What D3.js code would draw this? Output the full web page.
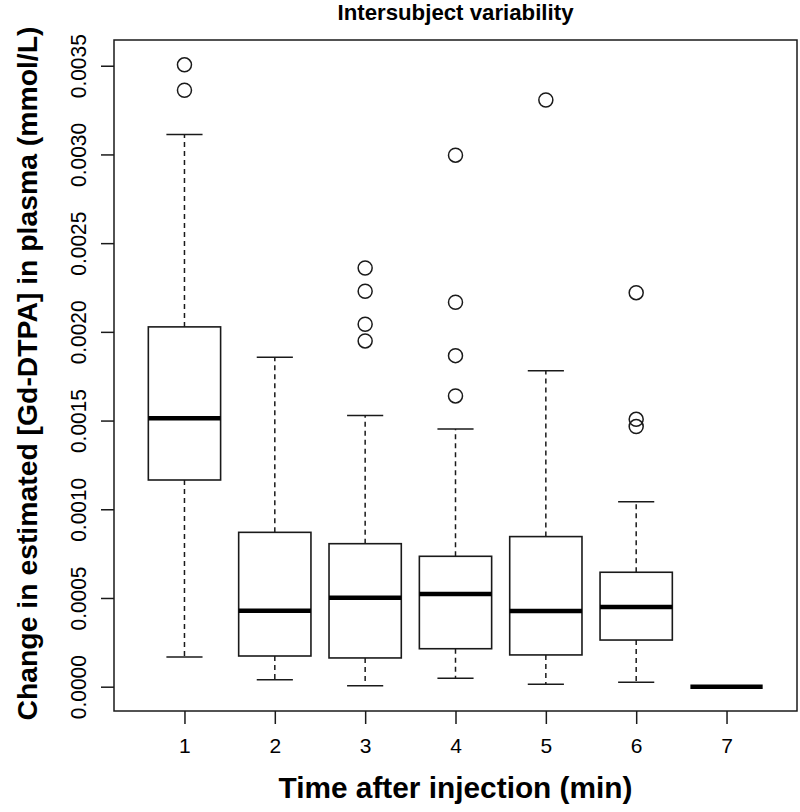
<!DOCTYPE html>
<html>
<head>
<meta charset="utf-8">
<script src="https://cdn.jsdelivr.net/npm/d3@7"></script>
<style>
html,body{margin:0;padding:0;background:#fff;}
svg{display:block;font-family:"Liberation Sans",Arial,sans-serif;}
</style>
</head>
<body>
<svg id="chart" width="800" height="812"></svg>
<script>
// ---- data ----
const categories = [1, 2, 3, 4, 5, 6, 7];
const whiskerLow = [0.000167, 0.0000395, 0.0000056, 0.0000473, 0.0000135, 0.0000248, 0];
const q1 =         [0.001165, 0.000173, 0.000162, 0.000214, 0.000179, 0.000263, 0];
const medians =    [0.001513, 0.000428, 0.000502, 0.000523, 0.000427, 0.000449, 0];
const q3 =         [0.002028, 0.000870, 0.000806, 0.000735, 0.000846, 0.000645, 0];
const whiskerHigh =[0.003112, 0.001857, 0.001528, 0.001453, 0.001781, 0.001043, 0];
const outliers = [
  [0.003505, 0.003362],
  [],
  [0.002360, 0.002229, 0.002043, 0.001949],
  [0.002996, 0.002167, 0.001866, 0.001639],
  [0.003307],
  [0.002221, 0.001507, 0.001466],
  []
];
const yTicks = [0, 0.0005, 0.0010, 0.0015, 0.0020, 0.0025, 0.0030, 0.0035];
const title = "Intersubject variability";
const xLabel = "Time after injection (min)";
const yLabel = "Change in estimated [Gd-DTPA] in plasma (mmol/L)";

// ---- layout ----
const pL = 114, pR = 797, pT = 40, pB = 711;
const svg = d3.select("#chart");
const x = d3.scaleLinear().domain([0.22, 7.78]).range([pL, pR]);
const y = d3.scaleLinear().domain([-0.000137, 0.003645]).range([pB, pT]);
const boxW = x(0.8) - x(0);
const capW = boxW / 2;
const ink = "#1a1a1a";

// frame
svg.append("rect").attr("x", pL).attr("y", pT)
  .attr("width", pR - pL).attr("height", pB - pT)
  .attr("fill", "none").attr("stroke", ink).attr("stroke-width", 1.5);

// y axis
const yAxis = svg.append("g").attr("transform", `translate(${pL},0)`)
  .call(d3.axisLeft(y).tickValues(yTicks).tickSize(13).tickFormat(d3.format(".4f")));
yAxis.select(".domain").remove();
yAxis.selectAll(".tick line").attr("stroke", ink).attr("stroke-width", 1.5);
yAxis.selectAll(".tick text")
  .attr("x", 0).attr("dy", 0)
  .attr("transform", "translate(-28,0) rotate(-90)")
  .attr("text-anchor", "middle")
  .attr("fill", "#000")
  .style("font-size", "22px")
  .attr("textLength", 64).attr("lengthAdjust", "spacingAndGlyphs");

// x axis
const xAxis = svg.append("g").attr("transform", `translate(0,${pB})`)
  .call(d3.axisBottom(x).tickValues(categories).tickSize(13).tickFormat(d3.format("d")));
xAxis.select(".domain").remove();
xAxis.selectAll(".tick line").attr("stroke", ink).attr("stroke-width", 1.5);
xAxis.selectAll(".tick text").attr("y", 42).attr("dy", 0)
  .attr("fill", "#000").style("font-size", "21px");

// boxes
const g = svg.append("g");
categories.forEach((c, i) => {
  const cx = x(c);
  const bg = g.append("g");
  if (q3[i] > q1[i]) {
    bg.append("line").attr("x1", cx).attr("x2", cx)
      .attr("y1", y(q3[i])).attr("y2", y(whiskerHigh[i]))
      .attr("stroke", ink).attr("stroke-width", 1.5).attr("stroke-dasharray", "5,4");
    bg.append("line").attr("x1", cx).attr("x2", cx)
      .attr("y1", y(q1[i])).attr("y2", y(whiskerLow[i]))
      .attr("stroke", ink).attr("stroke-width", 1.5).attr("stroke-dasharray", "5,4");
    [whiskerHigh[i], whiskerLow[i]].forEach(v => {
      bg.append("line").attr("x1", cx - capW / 2).attr("x2", cx + capW / 2)
        .attr("y1", y(v)).attr("y2", y(v))
        .attr("stroke", ink).attr("stroke-width", 1.5);
    });
    bg.append("rect").attr("x", cx - boxW / 2).attr("y", y(q3[i]))
      .attr("width", boxW).attr("height", y(q1[i]) - y(q3[i]))
      .attr("fill", "none").attr("stroke", ink).attr("stroke-width", 1.6);
  }
  bg.append("line").attr("x1", cx - boxW / 2).attr("x2", cx + boxW / 2)
    .attr("y1", y(medians[i])).attr("y2", y(medians[i]))
    .attr("stroke", "#000").attr("stroke-width", 4.5);
  bg.selectAll("circle").data(outliers[i]).enter().append("circle")
    .attr("cx", cx).attr("cy", d => y(d)).attr("r", 7)
    .attr("fill", "none").attr("stroke", ink).attr("stroke-width", 1.5);
});

// title & labels
svg.append("text").attr("x", (pL + pR) / 2).attr("y", 20)
  .attr("text-anchor", "middle").attr("font-weight", "bold")
  .style("font-size", "22px").attr("fill", "#000")
  .attr("textLength", 236).attr("lengthAdjust", "spacingAndGlyphs")
  .text(title);
svg.append("text").attr("x", (pL + pR) / 2).attr("y", 798)
  .attr("text-anchor", "middle").attr("font-weight", "bold")
  .style("font-size", "30px").attr("fill", "#000")
  .attr("textLength", 354).attr("lengthAdjust", "spacingAndGlyphs")
  .text(xLabel);
svg.append("text")
  .attr("transform", `translate(37,${(pT + pB) / 2 - 2}) rotate(-90)`)
  .attr("text-anchor", "middle").attr("font-weight", "bold")
  .style("font-size", "28px").attr("fill", "#000")
  .attr("textLength", 694).attr("lengthAdjust", "spacingAndGlyphs")
  .text(yLabel);
</script>
</body>
</html>
